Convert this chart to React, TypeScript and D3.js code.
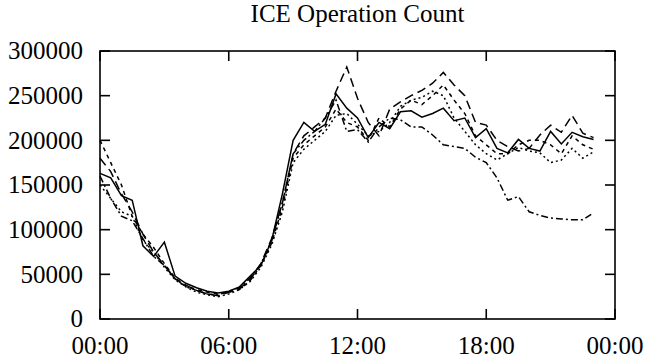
import React, { useEffect, useRef } from 'react';
import * as d3 from 'd3';

// half-hour samples, in hours since midnight
const hours = [
  0, 0.5, 1, 1.5, 2, 2.5, 3, 3.5, 4, 4.5, 5, 5.5, 6, 6.5, 7, 7.5,
  8, 8.5, 9, 9.5, 10, 10.5, 11, 11.5, 12, 12.5, 13, 13.5, 14, 14.5, 15, 15.5,
  16, 16.5, 17, 17.5, 18, 18.5, 19, 19.5, 20, 20.5, 21, 21.5, 22, 22.5, 23
];

const solid = [
  163000, 158000, 138000, 133000, 82000, 70000, 86000, 48000, 40000, 35000, 31000, 29000, 31000, 36000, 48000, 60000,
  88000, 140000, 200000, 220000, 210000, 218000, 252000, 236000, 225000, 203000, 220000, 213000, 232000, 233000, 226000, 230000,
  236000, 222000, 225000, 203000, 213000, 191000, 186000, 201000, 191000, 188000, 210000, 196000, 209000, 204000, 201000
];

const longDash = [
  180000, 165000, 140000, 120000, 95000, 75000, 60000, 45000, 38000, 32000, 28000, 26000, 30000, 34000, 44000, 62000,
  90000, 130000, 185000, 205000, 215000, 225000, 255000, 282000, 247000, 220000, 205000, 235000, 243000, 250000, 256000, 264000,
  276000, 262000, 250000, 220000, 217000, 200000, 193000, 188000, 191000, 206000, 217000, 209000, 228000, 208000, 203000
];

const shortDash = [
  200000, 175000, 150000, 115000, 95000, 80000, 62000, 46000, 37000, 33000, 30000, 28000, 30000, 33000, 43000, 60000,
  85000, 125000, 180000, 195000, 205000, 215000, 235000, 220000, 215000, 200000, 225000, 215000, 235000, 245000, 240000, 250000,
  262000, 245000, 230000, 205000, 195000, 185000, 185000, 195000, 200000, 200000, 195000, 185000, 205000, 195000, 190000
];

const dotted = [
  150000, 135000, 120000, 115000, 88000, 75000, 58000, 44000, 36000, 30000, 27000, 25000, 28000, 33000, 42000, 58000,
  83000, 120000, 175000, 190000, 200000, 210000, 228000, 230000, 218000, 205000, 210000, 220000, 238000, 245000, 248000, 255000,
  250000, 225000, 210000, 195000, 185000, 178000, 185000, 192000, 188000, 186000, 175000, 178000, 191000, 180000, 187000
];

const dashDot = [
  160000, 135000, 115000, 110000, 90000, 70000, 60000, 45000, 36000, 32000, 28000, 27000, 31000, 35000, 46000, 62000,
  88000, 130000, 185000, 200000, 210000, 225000, 245000, 210000, 212000, 198000, 215000, 225000, 223000, 215000, 215000, 206000,
  195000, 193000, 191000, 181000, 175000, 158000, 133000, 137000, 120000, 116000, 113000, 112000, 111000, 111000, 119000
];

const series = [
  { values: solid, dash: null },
  { values: longDash, dash: '9,5' },
  { values: shortDash, dash: '4,4' },
  { values: dotted, dash: '2,3' },
  { values: dashDot, dash: '7,3,2,3' }
];

const yTicks = [0, 50000, 100000, 150000, 200000, 250000, 300000];
const xTicks = [0, 6, 12, 18, 24];
const xTickLabels = ['00:00', '06:00', '12:00', '18:00', '00:00'];

const W = 647;
const H = 358;

export default function App() {
  const svgRef = useRef<SVGSVGElement>(null);

  useEffect(() => {
    if (!svgRef.current) return;
    const svg = d3.select(svgRef.current);
    svg.selectAll('*').remove();

    const left = 100, right = 615, top = 51, bottom = 319;
    const font = '"Liberation Serif", "DejaVu Serif", serif';

    const x = d3.scaleLinear().domain([0, 24]).range([left, right]);
    const y = d3.scaleLinear().domain([0, 300000]).range([bottom, top]);

    // title
    svg.append('text')
      .attr('x', (left + right) / 2)
      .attr('y', 22)
      .attr('text-anchor', 'middle')
      .style('font-family', font)
      .style('font-size', '25px')
      .text('ICE Operation Count');

    // data lines
    const line = d3.line<number>()
      .x((_, i) => x(hours[i]))
      .y(d => y(d));

    series.forEach(s => {
      svg.append('path')
        .attr('d', line(s.values))
        .attr('fill', 'none')
        .attr('stroke', '#000')
        .attr('stroke-width', 1.5)
        .attr('stroke-dasharray', s.dash)
        .attr('stroke-linejoin', 'miter');
    });

    // frame
    svg.append('rect')
      .attr('x', left)
      .attr('y', top)
      .attr('width', right - left)
      .attr('height', bottom - top)
      .attr('fill', 'none')
      .attr('stroke', '#000')
      .attr('stroke-width', 1.6);

    const tickLen = 10;

    // y ticks (inward, mirrored)
    yTicks.forEach(t => {
      const yy = y(t);
      svg.append('line').attr('x1', left).attr('x2', left + tickLen).attr('y1', yy).attr('y2', yy)
        .attr('stroke', '#000').attr('stroke-width', 1.6);
      svg.append('line').attr('x1', right).attr('x2', right - tickLen).attr('y1', yy).attr('y2', yy)
        .attr('stroke', '#000').attr('stroke-width', 1.6);
      svg.append('text')
        .attr('x', 83)
        .attr('y', yy)
        .attr('dy', '0.33em')
        .attr('text-anchor', 'end')
        .style('font-family', font)
        .style('font-size', '25px')
        .text(String(t));
    });

    // x ticks (inward, mirrored)
    xTicks.forEach((t, i) => {
      const xx = x(t);
      svg.append('line').attr('x1', xx).attr('x2', xx).attr('y1', bottom).attr('y2', bottom - tickLen)
        .attr('stroke', '#000').attr('stroke-width', 1.6);
      svg.append('line').attr('x1', xx).attr('x2', xx).attr('y1', top).attr('y2', top + tickLen)
        .attr('stroke', '#000').attr('stroke-width', 1.6);
      svg.append('text')
        .attr('x', xx)
        .attr('y', 354)
        .attr('text-anchor', 'middle')
        .style('font-family', font)
        .style('font-size', '25px')
        .text(xTickLabels[i]);
    });
  }, []);

  return (
    <svg
      ref={svgRef}
      width={W}
      height={H}
      style={{ position: 'absolute', left: 0, top: 0, background: '#fff' }}
    />
  );
}
